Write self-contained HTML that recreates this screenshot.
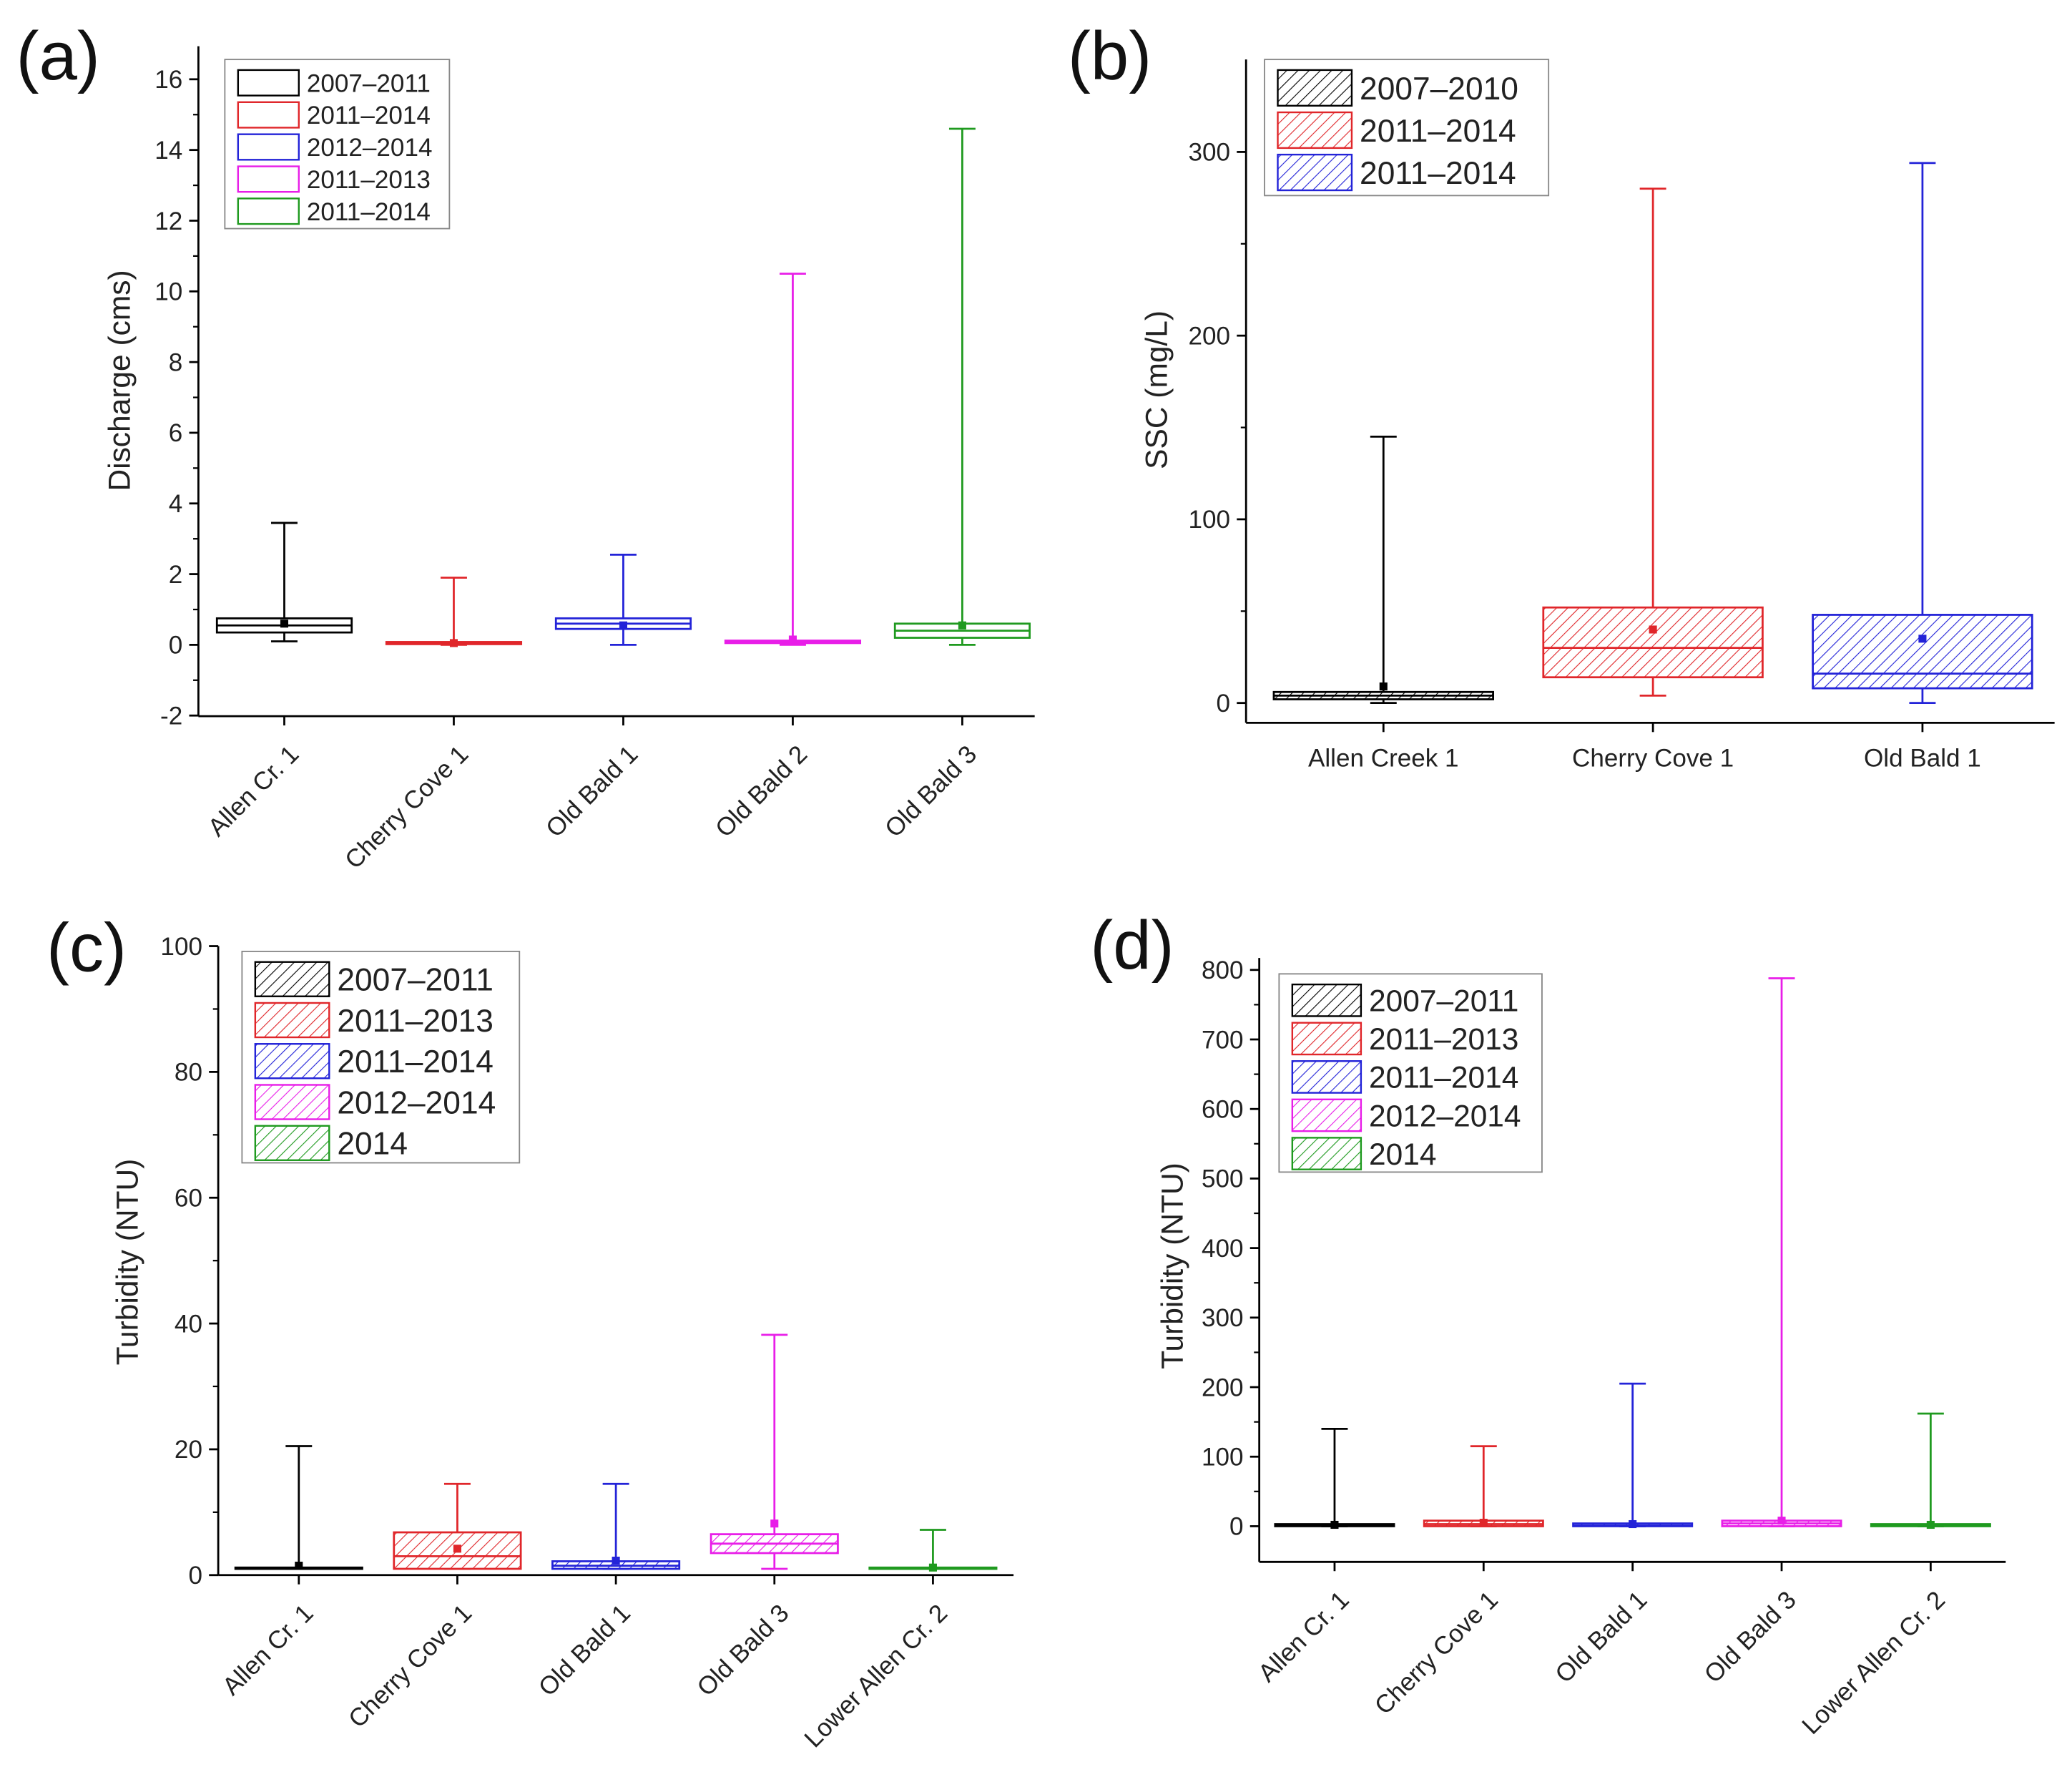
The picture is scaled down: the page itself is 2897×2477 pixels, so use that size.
<!DOCTYPE html>
<html><head><meta charset="utf-8">
<style>
html,body{margin:0;padding:0;background:#fff;}
svg{display:block;font-family:"Liberation Sans",Arial,sans-serif;}
</style></head>
<body>
<svg id="chart" width="2897" height="2477" viewBox="0 0 1568 1341" xmlns="http://www.w3.org/2000/svg">
<defs id="defs"></defs>
</svg>
<script>
// Panel (a) discharge
const aCats=["Allen Cr. 1","Cherry Cove 1","Old Bald 1","Old Bald 2","Old Bald 3"];
const aLo=[0.1,0,0,0,0];
const aHi=[3.45,1.9,2.55,10.5,14.6];
const aQ1=[0.35,0.02,0.45,0.05,0.2];
const aQ3=[0.75,0.08,0.75,0.12,0.6];
const aMed=[0.55,0.05,0.6,0.08,0.4];
const aMean=[0.6,0.05,0.55,0.15,0.55];
const aLegend=["2007–2011","2011–2014","2012–2014","2011–2013","2011–2014"];
const aTicks=[-2,0,2,4,6,8,10,12,14,16];
// Panel (b) SSC
const bCats=["Allen Creek 1","Cherry Cove 1","Old Bald 1"];
const bLo=[0,4,0];
const bHi=[145,280,294];
const bQ1=[2,14,8];
const bQ3=[6,52,48];
const bMed=[4,30,16];
const bMean=[9,40,35];
const bLegend=["2007–2010","2011–2014","2011–2014"];
const bTicks=[0,100,200,300];
// Panel (c) turbidity
const cCats=["Allen Cr. 1","Cherry Cove 1","Old Bald 1","Old Bald 3","Lower Allen Cr. 2"];
const cLo=[1,1,1,1,1];
const cHi=[20.5,14.5,14.5,38.2,7.2];
const cQ1=[1,1,1,3.5,1];
const cQ3=[1.2,6.8,2.2,6.5,1.2];
const cMed=[1.1,3,1.5,5,1.1];
const cMean=[1.5,4.2,2.3,8.2,1.2];
const cLegend=["2007–2011","2011–2013","2011–2014","2012–2014","2014"];
const cTicks=[0,20,40,60,80,100];
// Panel (d) turbidity
const dCats=["Allen Cr. 1","Cherry Cove 1","Old Bald 1","Old Bald 3","Lower Allen Cr. 2"];
const dLo=[0,0,0,0,0];
const dHi=[140,115,205,788,162];
const dQ1=[0,0,0,0,0];
const dQ3=[3,8,4,8,3];
const dMed=[1,3,1,4,1];
const dMean=[2,5,3,8,2];
const dLegend=["2007–2011","2011–2013","2011–2014","2012–2014","2014"];
const dTicks=[0,100,200,300,400,500,600,700,800];

const colors=["#000000","#e0262a","#2323d8","#e81ee8","#1f9a1f"];
const svg=document.getElementById('chart');
const defs=document.getElementById('defs');
const NS="http://www.w3.org/2000/svg";
function mk(tag,attrs,parent){const e=document.createElementNS(NS,tag);for(const k in attrs)e.setAttribute(k,attrs[k]);(parent||svg).appendChild(e);return e;}
colors.forEach((c,i)=>{
  const p=mk('pattern',{id:'h'+i,patternUnits:'userSpaceOnUse',width:6,height:6,patternTransform:'rotate(45)'},defs);
  mk('rect',{x:0,y:0,width:6,height:6,fill:'#fff'},p);
  mk('line',{x1:0,y1:0,x2:0,y2:6,stroke:c,'stroke-width':1.2},p);
});

function panel(cfg){
  const g=mk('g',{});
  
  
  const y=v=>cfg.y0+(v-cfg.vmin)/(cfg.vmax-cfg.vmin)*(cfg.y1-cfg.y0);
  const n=cfg.cats.length;
  const x=i=>cfg.x0+cfg.cx0+i*cfg.step;
  const ax=mk('line',{x1:cfg.x0,y1:cfg.axTop,x2:cfg.x0,y2:cfg.axBot,stroke:'#000','stroke-width':1.5},g);
  
  const bx=mk('line',{x1:cfg.x0,y1:cfg.axBot,x2:cfg.xEnd,y2:cfg.axBot,stroke:'#000','stroke-width':1.5},g);
  
  cfg.ticks.forEach((t,k)=>{
    const yy=y(t);
    mk('line',{x1:cfg.x0-7,y1:yy,x2:cfg.x0,y2:yy,stroke:'#000','stroke-width':1.5},g);
    const tx=mk('text',{x:cfg.x0-12,y:yy+cfg.fs*0.35,'text-anchor':'end','font-size':cfg.fs,fill:'#222'},g);
    tx.textContent=t;
    
    if(k<cfg.ticks.length-1){const m=y((t+cfg.ticks[k+1])/2);mk('line',{x1:cfg.x0-4,y1:m,x2:cfg.x0,y2:m,stroke:'#000','stroke-width':1.2},g);}
  });
  const yt=mk('text',{x:cfg.ytX,y:cfg.ytY,'text-anchor':'middle','font-size':cfg.tfs,fill:'#222',transform:`rotate(-90 ${cfg.ytX} ${cfg.ytY})`},g);
  yt.textContent=cfg.ytitle;
  
  const lb=mk('text',{x:cfg.lbX,y:cfg.lbY,'font-size':52,fill:'#111'},g);
  lb.textContent=cfg.label;
  
  for(let i=0;i<n;i++){
    const c=colors[i],cxp=x(i),hw=cfg.bw/2;
    mk('line',{x1:cxp,y1:cfg.axBot,x2:cxp,y2:cfg.axBot+7,stroke:'#000','stroke-width':1.5},g);
    const bg=mk('g',{},g);
    
    
    mk('line',{x1:cxp,y1:y(cfg.lo[i]),x2:cxp,y2:y(cfg.hi[i]),stroke:c,'stroke-width':1.5},bg);
    mk('line',{x1:cxp-10,y1:y(cfg.hi[i]),x2:cxp+10,y2:y(cfg.hi[i]),stroke:c,'stroke-width':1.5},bg);
    mk('line',{x1:cxp-10,y1:y(cfg.lo[i]),x2:cxp+10,y2:y(cfg.lo[i]),stroke:c,'stroke-width':1.5},bg);
    const top=y(cfg.q3[i]),bot=y(cfg.q1[i]);
    mk('rect',{x:cxp-hw,y:top,width:cfg.bw,height:Math.max(bot-top,1),fill:cfg.hatch?'url(#h'+i+')':'#fff',stroke:c,'stroke-width':1.5},bg);
    mk('line',{x1:cxp-hw,y1:y(cfg.med[i]),x2:cxp+hw,y2:y(cfg.med[i]),stroke:c,'stroke-width':1.5},bg);
    mk('rect',{x:cxp-3,y:y(cfg.mean[i])-3,width:6,height:6,fill:c},bg);
    let t;
    if(cfg.rot){
      t=mk('text',{x:cxp+12,y:cfg.axBot+30,'text-anchor':'end','font-size':cfg.fs,fill:'#222',transform:`rotate(-45 ${cxp+12} ${cfg.axBot+30})`},g);
    }else{
      t=mk('text',{x:cxp,y:cfg.axBot+33,'text-anchor':'middle','font-size':cfg.fs,fill:'#222'},g);
    }
    t.textContent=cfg.cats[i];
    
  }
  const L=cfg.leg;
  const lg=mk('g',{},g);
  
  mk('rect',{x:L.x,y:L.y,width:L.w,height:L.h,fill:'#fff',stroke:'#888','stroke-width':1},lg);
  cfg.legend.forEach((s,i)=>{
    const yy=L.y+8+i*L.rh;
    mk('rect',{x:L.x+10,y:yy,width:L.sw,height:L.rh-5,fill:cfg.hatch?'url(#h'+i+')':'#fff',stroke:colors[i],'stroke-width':1.3},lg);
    const t=mk('text',{x:L.x+L.sw+16,y:yy+(L.rh-5)*0.5+L.fs*0.36,'font-size':L.fs,fill:'#222'},lg);
    t.textContent=s;
    
  });
}

panel({name:'panel-a',label:'(a)',lbX:12,lbY:60,cats:aCats,lo:aLo,hi:aHi,q1:aQ1,q3:aQ3,med:aMed,mean:aMean,legend:aLegend,ticks:aTicks,
  x0:150,xEnd:783,cx0:65,step:128.3,bw:102,y0:541.5,y1:60,vmin:-2,vmax:16,axTop:35,axBot:542,fs:19,tfs:23,ytitle:'Discharge (cms)',ytX:98,ytY:288,rot:true,hatch:false,
  leg:{x:170,y:45,w:170,h:128,rh:24.3,sw:46,fs:19}});
panel({name:'panel-b',label:'(b)',lbX:808,lbY:60,cats:bCats,lo:bLo,hi:bHi,q1:bQ1,q3:bQ3,med:bMed,mean:bMean,legend:bLegend,ticks:bTicks,
  x0:943,xEnd:1555,cx0:104,step:204,bw:166,y0:532,y1:115,vmin:0,vmax:300,axTop:45,axBot:547,fs:19,tfs:23,ytitle:'SSC (mg/L)',ytX:883,ytY:295,rot:false,hatch:true,
  leg:{x:957,y:45,w:215,h:103,rh:32,sw:56,fs:24}});
panel({name:'panel-c',label:'(c)',lbX:35,lbY:735,cats:cCats,lo:cLo,hi:cHi,q1:cQ1,q3:cQ3,med:cMed,mean:cMean,legend:cLegend,ticks:cTicks,
  x0:165,xEnd:767,cx0:61,step:120,bw:96,y0:1192,y1:716,vmin:0,vmax:100,axTop:716,axBot:1192,fs:19,tfs:23,ytitle:'Turbidity (NTU)',ytX:104,ytY:955,rot:true,hatch:true,
  leg:{x:183,y:720,w:210,h:160,rh:31,sw:56,fs:24}});
panel({name:'panel-d',label:'(d)',lbX:825,lbY:733,cats:dCats,lo:dLo,hi:dHi,q1:dQ1,q3:dQ3,med:dMed,mean:dMean,legend:dLegend,ticks:dTicks,
  x0:953,xEnd:1518,cx0:57,step:112.8,bw:90,y0:1155,y1:734,vmin:0,vmax:800,axTop:725,axBot:1182,fs:19,tfs:23,ytitle:'Turbidity (NTU)',ytX:895,ytY:958,rot:true,hatch:true,
  leg:{x:968,y:737,w:199,h:150,rh:29,sw:52,fs:23}});
</script>
</body></html>
